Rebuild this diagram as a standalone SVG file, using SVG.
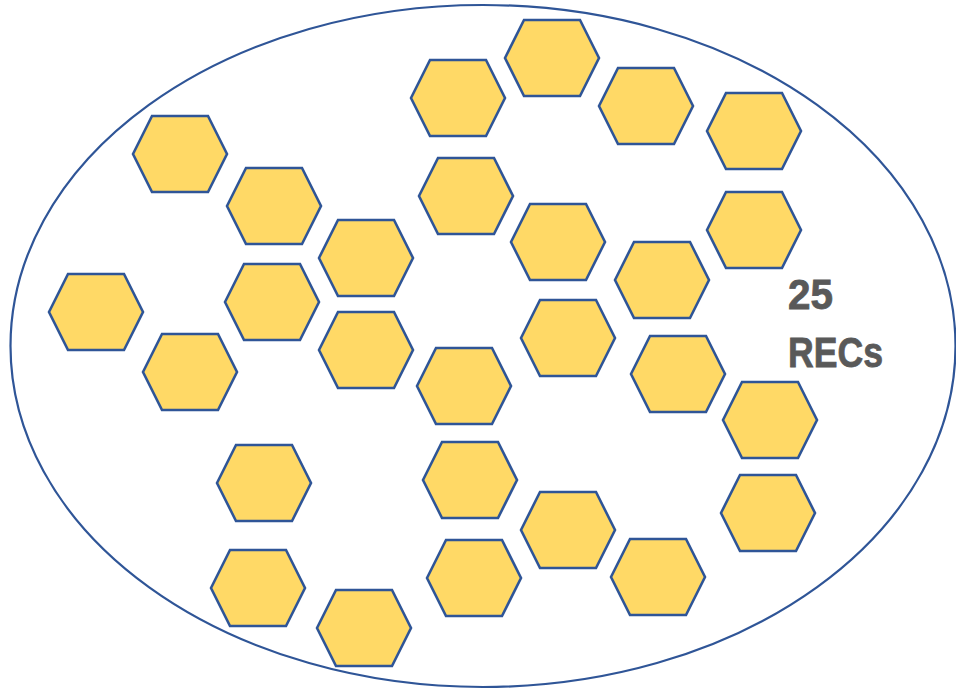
<svg xmlns="http://www.w3.org/2000/svg" xmlns:xlink="http://www.w3.org/1999/xlink" width="956" height="689" viewBox="0 0 956 689">
<style>
.hex{fill:#FFD966;stroke:#2F5597;stroke-width:2.6;stroke-linejoin:miter}
.boundary{fill:none;stroke:#2F5597;stroke-width:2.2}
.label{font-family:"Liberation Sans",Arial,sans-serif;font-weight:bold;font-size:42px;fill:#595959;stroke:#595959;stroke-width:0.8}
</style>
<defs>
<polygon id="hex" class="hex" points="-47,0 -28,-38 28,-38 47,0 28,38 -28,38"/>
</defs>
<rect width="956" height="689" fill="#ffffff"/>
<g id="boundary"><ellipse class="boundary" cx="483" cy="346" rx="472.5" ry="341"/></g>
<g id="recs">
<g id="rec1"><use xlink:href="#hex" transform="translate(458,98)"/></g>
<g id="rec2"><use xlink:href="#hex" transform="translate(552,58)"/></g>
<g id="rec3"><use xlink:href="#hex" transform="translate(646,106)"/></g>
<g id="rec4"><use xlink:href="#hex" transform="translate(754,131)"/></g>
<g id="rec5"><use xlink:href="#hex" transform="translate(180,154)"/></g>
<g id="rec6"><use xlink:href="#hex" transform="translate(274,206)"/></g>
<g id="rec7"><use xlink:href="#hex" transform="translate(466,196)"/></g>
<g id="rec8"><use xlink:href="#hex" transform="translate(558,242)"/></g>
<g id="rec9"><use xlink:href="#hex" transform="translate(754,230)"/></g>
<g id="rec10"><use xlink:href="#hex" transform="translate(366,258)"/></g>
<g id="rec11"><use xlink:href="#hex" transform="translate(662,280)"/></g>
<g id="rec12"><use xlink:href="#hex" transform="translate(96,312)"/></g>
<g id="rec13"><use xlink:href="#hex" transform="translate(272,302)"/></g>
<g id="rec14"><use xlink:href="#hex" transform="translate(568,338)"/></g>
<g id="rec15"><use xlink:href="#hex" transform="translate(366,350)"/></g>
<g id="rec16"><use xlink:href="#hex" transform="translate(190,372)"/></g>
<g id="rec17"><use xlink:href="#hex" transform="translate(678,374)"/></g>
<g id="rec18"><use xlink:href="#hex" transform="translate(464,386)"/></g>
<g id="rec19"><use xlink:href="#hex" transform="translate(770,420)"/></g>
<g id="rec20"><use xlink:href="#hex" transform="translate(264,483)"/></g>
<g id="rec21"><use xlink:href="#hex" transform="translate(470,480)"/></g>
<g id="rec22"><use xlink:href="#hex" transform="translate(568,530)"/></g>
<g id="rec23"><use xlink:href="#hex" transform="translate(768,513)"/></g>
<g id="rec24"><use xlink:href="#hex" transform="translate(258,588)"/></g>
<g id="rec25"><use xlink:href="#hex" transform="translate(474,578)"/></g>
<g id="rec26"><use xlink:href="#hex" transform="translate(658,577)"/></g>
<g id="rec27"><use xlink:href="#hex" transform="translate(364,628)"/></g>
</g>
<g id="connectors"/>
<g id="title">
<text class="label" x="788" y="309" textLength="45" lengthAdjust="spacingAndGlyphs">25</text>
<text class="label" x="788" y="367" textLength="95" lengthAdjust="spacingAndGlyphs">RECs</text>
</g>
</svg>
